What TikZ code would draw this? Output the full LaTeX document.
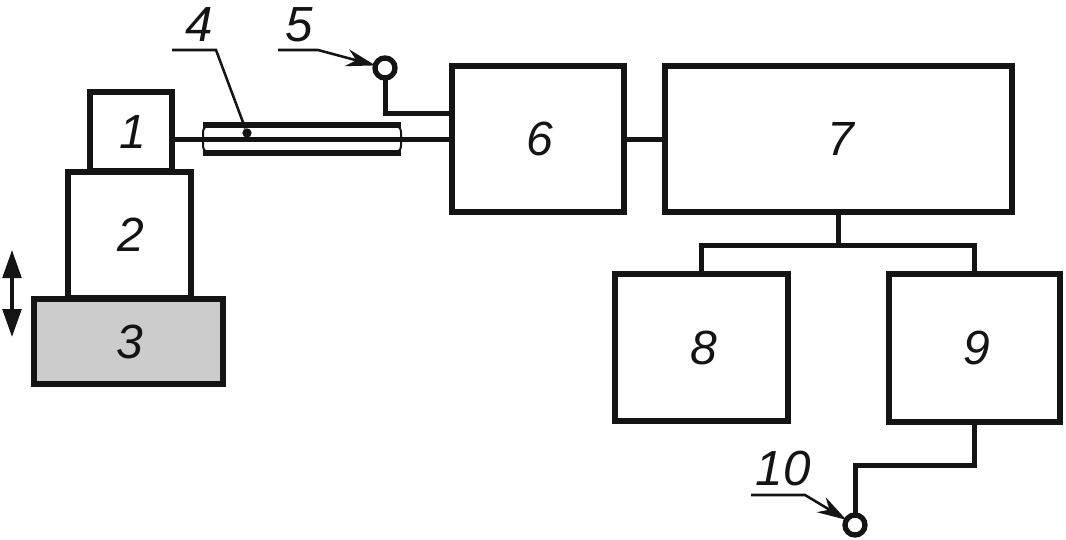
\documentclass[tikz,border=0pt]{standalone}
\usepackage{fontspec}
\setmainfont{Liberation Sans}
\usetikzlibrary{positioning,calc,arrows.meta}
\definecolor{stagegray}{HTML}{CCCCCC}
\definecolor{inkblack}{HTML}{141414}
\begin{document}
\begin{tikzpicture}[x=0.75pt,y=-0.75pt,font=\fontsize{36}{36}\selectfont\itshape,
      block/.style={draw=inkblack,line width=4.5pt,outer sep=0pt,inner sep=0pt,text=inkblack,execute at begin node=\hspace*{3pt}},
      wire/.style={draw=inkblack,line width=3.75pt,line join=miter},
      leader/.style={draw=inkblack,line width=1.9pt},
      pointer/.style={leader,-{Stealth[length=22pt,width=13pt]}},
      term/.style={circle,draw=inkblack,fill=white,line width=4pt,minimum size=15pt,inner sep=0pt,outer sep=0pt},
      callout/.style={inner sep=0pt,text=inkblack,font=\fontsize{37}{37}\selectfont\itshape}]
    \useasboundingbox (0,0) rectangle (1066,539);
    \node[block,minimum width=61.5pt,minimum height=59.25pt] (b1) at (131,131.5) {1};
    \node[block,minimum width=92.25pt,minimum height=94.5pt,below=0.75pt of b1,xshift=-1.5pt] (b2) {2};
    \node[block,fill=stagegray,minimum width=142pt,minimum height=63.75pt,below=0.75pt of b2,xshift=-0.6pt] (b3) {3};
    \node[block,minimum width=129pt,minimum height=109.5pt] (b6) at (538,139) {6};
    \node[block,minimum width=260.25pt,minimum height=109.5pt,right=30.75pt of b6] (b7) {7};
    \node[block,minimum width=129.75pt,minimum height=110.25pt] (b8) at (701.5,347.5) {8};
    \node[block,minimum width=128.25pt,minimum height=111pt,right=75.75pt of b8] (b9) {9};
    % fibre and its tube
    \node[minimum width=148.5pt,minimum height=20.5pt,inner sep=0pt,outer sep=0pt] (tube) at (302,139) {};
    \draw[inkblack,line width=1.5pt,rounded corners=5pt] (tube.north west) rectangle (tube.south east);
    \draw[wire,line width=4.5pt] (tube.north west) -- (tube.north east);
    \draw[wire,line width=4.5pt] (tube.south west) -- (tube.south east);
    \draw[wire] (b1.east |- tube) -- (b6.west |- tube);
    \node[circle,fill=inkblack,minimum size=7pt,inner sep=0pt] (dot) at (247,133) {};
    % terminals
    \node[term] (t5) at (385,68) {};
    \node[term] (t10) at (855,525) {};
    \coordinate (j5) at (385,113);
    \draw[wire] (t5) -- (j5) -- (b6.west |- j5);
    \draw[wire] (b6) -- (b7);
    \coordinate (bus) at (838,245);
    \draw[wire] (bus |- b7.south) -- (bus);
    \draw[wire] (b8.north) |- (bus) -| (b9.north);
    \coordinate (j10) at (855,465);
    \draw[wire] (b9.south) |- (j10) -- (t10);
    % callouts
    \node[callout] (n4) at (199,25) {4};
    \node[callout] (n5) at (299,25) {5};
    \node[callout] (n10) at (783,469) {10};
    \coordinate (l4a) at (172,50); \coordinate (l4b) at (216,50);
    \coordinate (l5a) at (278,50); \coordinate (l5b) at (318,50);
    \coordinate (l10a) at (751,495); \coordinate (l10b) at (805,495);
    \draw[leader] (l4a) -- (l4b) -- (dot);
    \draw[pointer] (l5a) -- (l5b) -- (t5);
    \draw[pointer] (l10a) -- (l10b) -- (t10);
    % stage travel
    \coordinate (up) at (12,250); \coordinate (down) at (12,337);
    \draw[draw=inkblack,line width=2.6pt,{Triangle[length=21pt,width=14pt]}-{Triangle[length=21pt,width=14pt]}] (up) -- (down);
  \end{tikzpicture}
\end{document}
